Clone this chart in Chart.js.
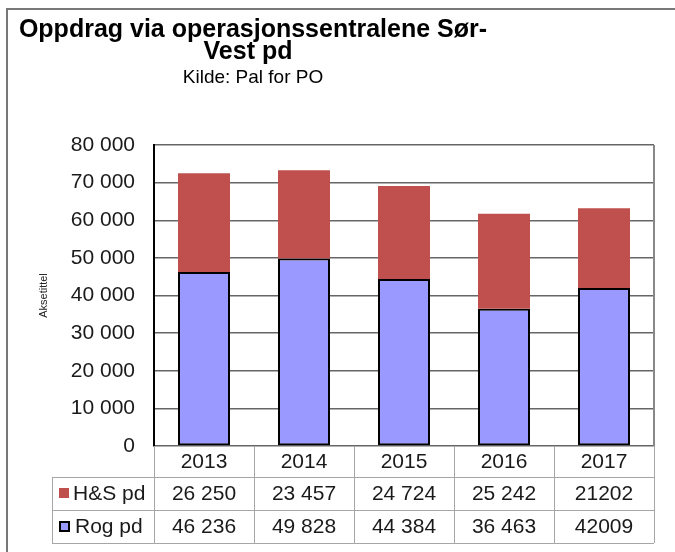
<!DOCTYPE html>
<html>
<head>
<meta charset="utf-8">
<script src="https://cdn.jsdelivr.net/npm/chart.js@4/dist/chart.umd.min.js"></script>
<style>
html,body{margin:0;padding:0;background:#fff;}
#wrap{position:relative;width:675px;height:552px;}
</style>
</head>
<body>
<div id="wrap"><canvas id="chart" width="675" height="552"></canvas></div>
<script>
// Oppdrag via operasjonssentralene Sør-Vest pd
var years=['2013','2014','2015','2016','2017'];
var hsValues=[26250,23457,24724,25242,21202];
var rogValues=[46236,49828,44384,36463,42009];
var hsText=['26 250','23 457','24 724','25 242','21202'];
var rogText=['46 236','49 828','44 384','36 463','42009'];
var yTicks=[0,10000,20000,30000,40000,50000,60000,70000,80000];

var FONT="'Liberation Sans', Arial, sans-serif";
var HS_COLOR='#c0504d';
var ROG_COLOR='#9999ff';

function fmt(v){return String(v).replace(/\B(?=(\d{3})+(?!\d))/g,' ');}

/* ============================================================
   TITLE + FRAME + DATA TABLE (drawn after the chart)
   ============================================================ */
var extras={
    id:'extras',
    afterDraw:function(chart){
        var c=chart.ctx,a=chart.chartArea,x=chart.scales.x;
        c.save();
        // outer frame (only top/left visible)
        c.strokeStyle='#777';c.lineWidth=2;
        c.beginPath();c.moveTo(7,552);c.lineTo(7,9);c.lineTo(675,9);c.stroke();

        // title
        c.fillStyle='#000';c.textAlign='center';c.textBaseline='alphabetic';
        c.font='bold 25px '+FONT;
        c.fillText('Oppdrag via operasjonssentralene Sør-',253,37);
        c.fillText('Vest pd',248,59);
        c.font='19px '+FONT;
        c.fillText('Kilde: Pal for PO',253,83);

        // plot right border
        c.strokeStyle='#888';c.lineWidth=2;
        c.beginPath();c.moveTo(a.right,a.top);c.lineTo(a.right,a.bottom);c.stroke();

        // table grid
        var rowH=[a.bottom,477,510,543];
        var tblLeft=52;
        c.strokeStyle='#a6a6a6';c.lineWidth=1;
        c.beginPath();
        for(var r=1;r<rowH.length;r++){c.moveTo(tblLeft,rowH[r]+0.5);c.lineTo(a.right,rowH[r]+0.5);}
        c.moveTo(tblLeft+0.5,rowH[1]);c.lineTo(tblLeft+0.5,rowH[3]);
        var step=(a.right-a.left)/years.length;
        for(var i=0;i<=years.length;i++){
            var bx=Math.round(a.left+i*step)+0.5;
            c.moveTo(bx,a.bottom);c.lineTo(bx,rowH[3]);
        }
        c.stroke();

        // table text
        c.fillStyle='#1a1a1a';c.font='21px '+FONT;c.textBaseline='middle';c.textAlign='center';
        years.forEach(function(y,i){
            var cx=x.getPixelForValue(i);
            c.fillText(y,cx,(rowH[0]+rowH[1])/2+1);
            c.fillText(hsText[i],cx,(rowH[1]+rowH[2])/2+1);
            c.fillText(rogText[i],cx,(rowH[2]+rowH[3])/2+1);
        });

        // legend keys
        c.textAlign='left';
        c.fillStyle=HS_COLOR;c.fillRect(59,488,10,10);
        c.fillStyle='#1a1a1a';c.fillText('H&S pd',73,(rowH[1]+rowH[2])/2+1);
        c.fillStyle=ROG_COLOR;c.fillRect(60,522,9,9);
        c.strokeStyle='#000';c.lineWidth=2;c.strokeRect(60,522,9,9);
        c.fillStyle='#1a1a1a';c.fillText('Rog pd',75,(rowH[2]+rowH[3])/2+1);
        c.restore();
    }
};

/* ============================================================
   CHART
   ============================================================ */
new Chart(document.getElementById('chart'),{
    type:'bar',
    data:{
        labels:years,
        datasets:[
            {label:'Rog pd',data:rogValues,backgroundColor:ROG_COLOR,borderColor:'#000',borderWidth:2,borderSkipped:false,barPercentage:0.52,categoryPercentage:1},
            {label:'H&S pd',data:hsValues,backgroundColor:HS_COLOR,borderWidth:0,barPercentage:0.52,categoryPercentage:1}
        ]
    },
    options:{
        responsive:false,animation:false,
        layout:{padding:{left:0,right:21,top:145,bottom:106}},
        plugins:{legend:{display:false},tooltip:{enabled:false},title:{display:false}},
        scales:{
            x:{stacked:true,
                grid:{display:false,drawTicks:false},
                border:{display:false},
                ticks:{display:false}},
            y:{stacked:true,min:0,max:80000,
                afterBuildTicks:function(s){s.ticks=yTicks.map(function(v){return {value:v};});},
                afterFit:function(s){s.width=154;},
                grid:{color:'#666',lineWidth:1.5,drawTicks:false},
                border:{color:'#000',width:2},
                ticks:{padding:19,color:'#1a1a1a',font:{family:FONT,size:21},callback:function(v){return fmt(v);}},
                title:{display:true,text:'Aksetittel',color:'#222',font:{family:FONT,size:11},padding:{top:37,bottom:0}}}
        }
    },
    plugins:[extras]
});
</script>
</body>
</html>
